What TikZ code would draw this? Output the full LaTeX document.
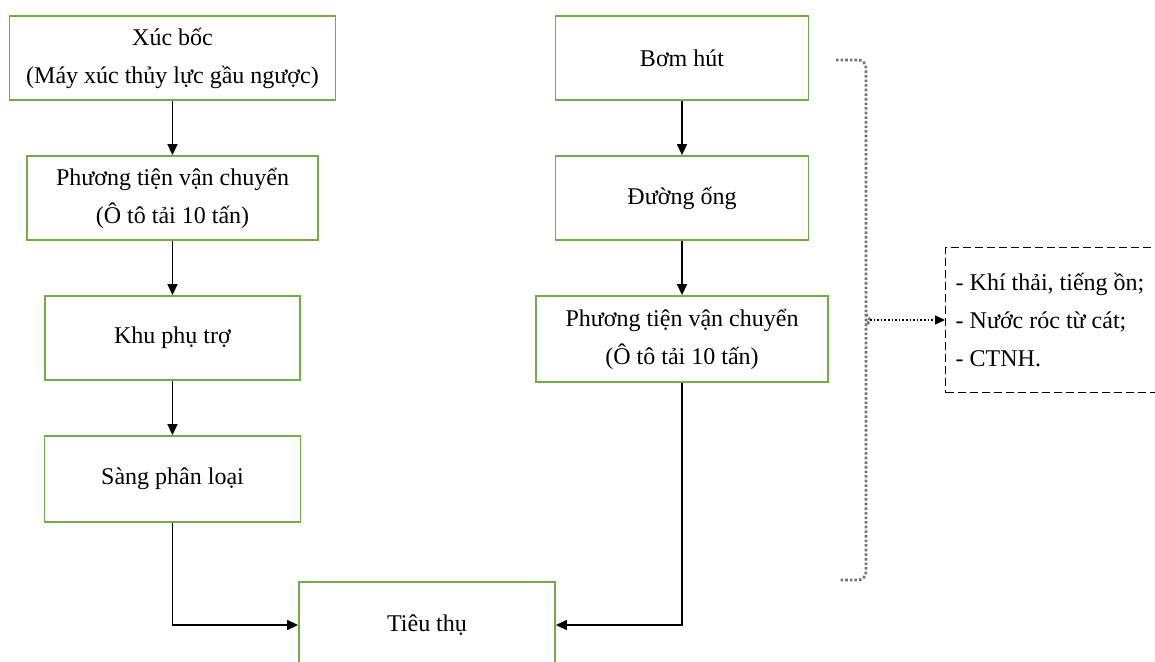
\documentclass[tikz,border=0pt]{standalone}
\usepackage{fontspec}
\setmainfont{Liberation Serif}
\usetikzlibrary{arrows.meta}
\definecolor{boxgreen}{RGB}{112,173,71}

\begin{document}
\begin{tikzpicture}[
      x=0.5pt, y=-0.5pt,
      font=\fontsize{12}{19}\selectfont,
      box/.style={draw=boxgreen, line width=0.9pt, minimum height=42pt,
        inner sep=0pt, align=center},
      arr/.style={-{Triangle[length=5.5pt,width=5pt]}, line width=0.75pt},
      bracket/.style={densely dotted, black!55, line width=1.3pt},
      outbox/.style={draw, dash pattern=on 4pt off 2pt, line width=0.7pt,
        minimum height=72.5pt, text width=140pt, inner xsep=5pt, align=flush left}
    ]
    \useasboundingbox (0,0) rectangle (1155,662);
    \clip (0,0) rectangle (1155,662);
    \node (xucboc) [box, minimum width=163pt] at (172.5,58)
      {Xúc bốc\\(Máy xúc thủy lực gầu ngược)};
    \node (ptvc1) [box, minimum width=145.5pt] at (172.5,198)
      {Phương tiện vận chuyển\\(Ô tô tải 10 tấn)};
    \node (khuphutro) [box, minimum width=127.5pt] at (172.5,338) {Khu phụ trợ};
    \node (sang) [box, minimum width=128pt, minimum height=43pt] at (172.5,479) {Sàng phân loại};
    \node (tieuthu) [box, minimum width=128pt, minimum height=43pt] at (427,625) {Tiêu thụ};
    \node (bomhut) [box, minimum width=126.5pt] at (682,58) {Bơm hút};
    \node (duongong) [box, minimum width=126.5pt] at (682,198) {Đường ống};
    \node (ptvc2) [box, minimum width=146pt, minimum height=43pt] at (682,339)
      {Phương tiện vận chuyển\\(Ô tô tải 10 tấn)};
    \node (chatthai) [outbox, anchor=west] at (945,320)
      {- Khí thải, tiếng ồn;\\- Nước róc từ cát;\\- CTNH.};
    \draw[arr] (xucboc) -- (ptvc1);
    \draw[arr] (ptvc1) -- (khuphutro);
    \draw[arr] (khuphutro) -- (sang);
    \draw[arr] (sang.south) |- (tieuthu.west);
    \draw[arr] (bomhut) -- (duongong);
    \draw[arr] (duongong) -- (ptvc2);
    \draw[arr] (ptvc2.south) |- (tieuthu.east);
    \coordinate (brtop) at (836,60);
    \coordinate (brbot) at (840,580);
    \coordinate (brmid) at (870,320);
    \draw[bracket, rounded corners=4pt] (brtop) -- (866,60) -- (866,580) -- (brbot);
    \draw[bracket] (866,314) -- (brmid) -- (866,326);
    \draw[densely dotted, line width=0.8pt, -{Triangle[length=5pt,width=4.5pt]}]
      (brmid) -- (chatthai.west);
  \end{tikzpicture}
\end{document}
